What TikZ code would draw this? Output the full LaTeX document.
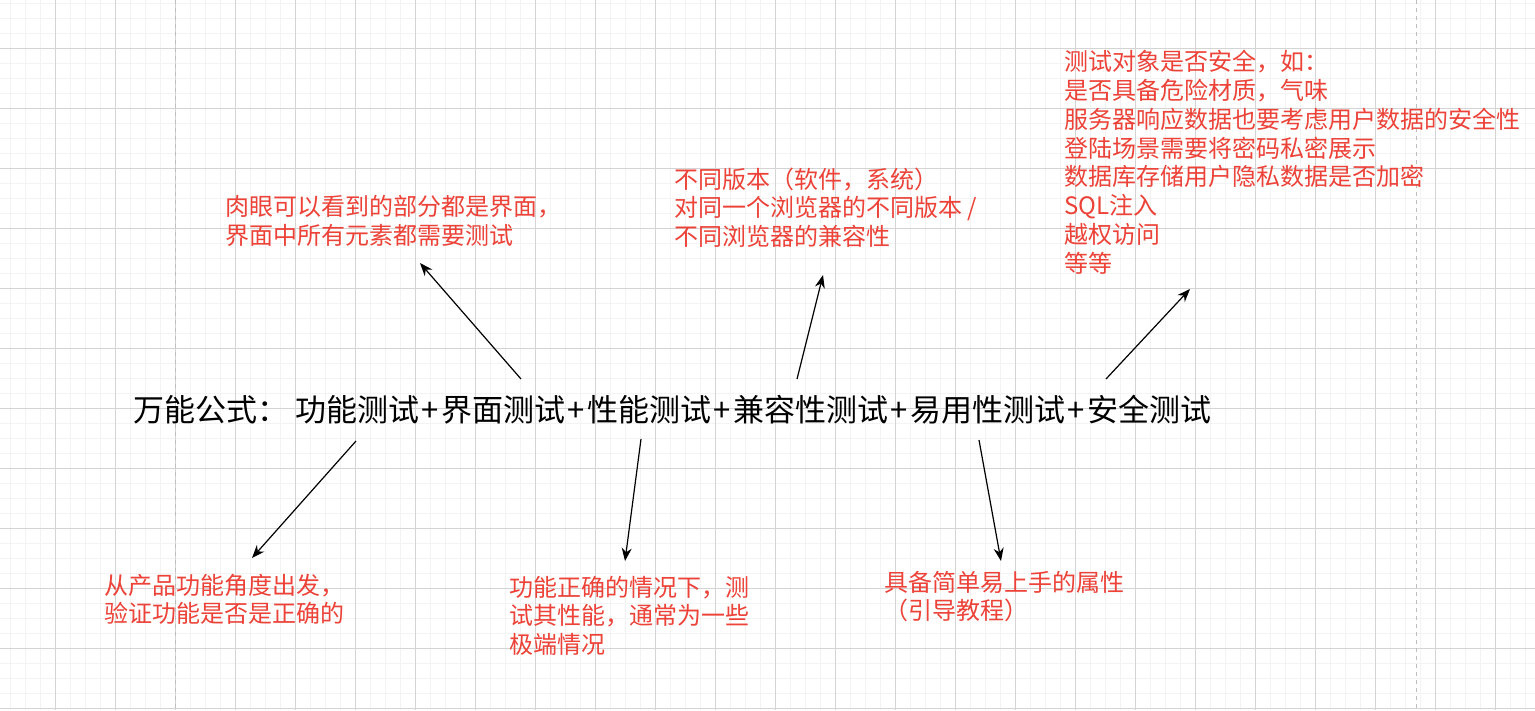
\documentclass[tikz,border=0pt]{standalone}
\usepackage{fontspec}
\setmainfont{Noto Sans CJK SC}
\usetikzlibrary{arrows.meta, positioning}
\definecolor{merahteks}{RGB}{236,66,56}
\definecolor{abumuda}{RGB}{243,243,243}
\definecolor{abusedang}{RGB}{212,212,212}
\definecolor{abutua}{RGB}{190,190,190}
\newcommand{\tambah}{\makebox[22pt]{+}}

\begin{document}
\begin{tikzpicture}[x=1pt, y=-1pt,
        catatan/.style={anchor=base west, inner sep=0pt, align=left, text=merahteks, font=\fontsize{24}{28.8}\selectfont},
        panah/.style={-{Stealth[length=13pt, width=10pt]}, line width=1.2pt}]
        % latar dan grid
        \fill[white] (0,0) rectangle (1535,710);
        \useasboundingbox (0,0) rectangle (1535,710);
        \foreach \x in {10,25,...,1530} \draw[abumuda, line width=1pt] (\x,0) -- (\x,710);
        \foreach \y in {3.3,18.3,...,708.3} \draw[abumuda, line width=1pt] (0,\y) -- (1535,\y);
        \foreach \x in {55,115,...,1495} \draw[abusedang, line width=1pt] (\x,0) -- (\x,710);
        \foreach \y in {48.3,108.3,...,708.3} \draw[abusedang, line width=1pt] (0,\y) -- (1535,\y);
        \foreach \x in {175,1416.7} \draw[abutua, line width=1pt, dash pattern=on 4pt off 4pt] (\x,0) -- (\x,710);

        % rumus utama
        \node[anchor=base west, inner sep=0pt, font=\fontsize{31}{37}\selectfont] (rumus) at (133,421.8)
            {万能公式： 功能测试\tambah 界面测试\tambah 性能测试\tambah 兼容性测试\tambah 易用性测试\tambah 安全测试};

        % catatan merah (titik = garis dasar baris terakhir)
        \node[catatan] (antarmuka) at (225,244.6) {肉眼可以看到的部分都是界面，\\界面中所有元素都需要测试};
        \node[catatan] (kompatibel) at (674,245.6) {不同版本（软件，系统）\\对同一个浏览器的不同版本 /\\不同浏览器的兼容性};
        \node[catatan] (keamanan) at (1064,272.2) {测试对象是否安全，如：\\是否具备危险材质，气味\\服务器响应数据也要考虑用户数据的安全性\\登陆场景需要将密码私密展示\\数据库存储用户隐私数据是否加密\\SQL注入\\越权访问\\等等};
        \node[catatan] (fungsi) at (104,622.8) {从产品功能角度出发，\\验证功能是否是正确的};
        \node[catatan] (kinerja) at (509,653.6) {功能正确的情况下，测\\试其性能，通常为一些\\极端情况};
        \node[catatan] (kemudahan) at (884,619.8) {具备简单易上手的属性\\（引导教程）};

        % panah
        \foreach \nama/\ax/\ay/\bx/\by in {
            antarmuka/521/379/420/263,
            kompatibel/797/379/823/275,
            keamanan/1106/379/1190/289,
            fungsi/356/441/252/558,
            kinerja/641/439/625/561,
            kemudahan/979/440/1001/561}
        {
            \coordinate (\nama-a) at (\ax,\ay);
            \coordinate (\nama-b) at (\bx,\by);
            \draw[panah] (\nama-a) -- (\nama-b);
        }
\end{tikzpicture}
\end{document}
